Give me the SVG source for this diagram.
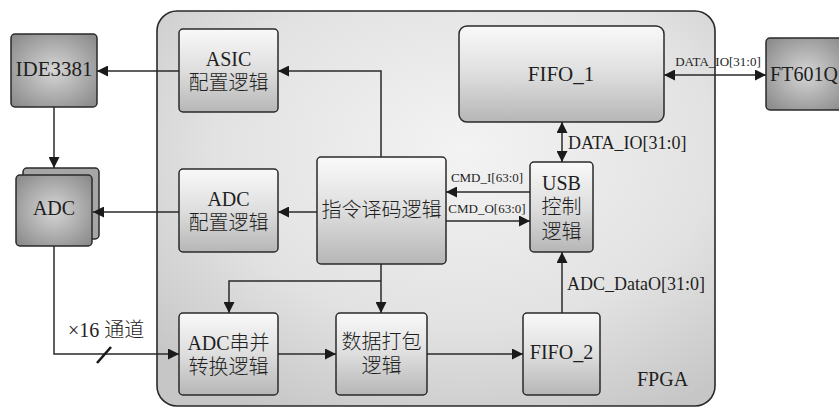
<svg xmlns="http://www.w3.org/2000/svg" width="839" height="407" viewBox="0 0 839 407">
  <defs>
    <radialGradient id="gFpga" cx="0.55" cy="0.35" r="0.75">
      <stop offset="0" stop-color="#f3f3f3"/>
      <stop offset="0.6" stop-color="#e2e2e2"/>
      <stop offset="1" stop-color="#c6c6c6"/>
    </radialGradient>
    <linearGradient id="gBlock" x1="0" y1="0" x2="0" y2="1">
      <stop offset="0" stop-color="#f9f9f9"/>
      <stop offset="0.5" stop-color="#dedede"/>
      <stop offset="1" stop-color="#b6b6b6"/>
    </linearGradient>
    <radialGradient id="gChip" cx="0.5" cy="0.5" r="0.65">
      <stop offset="0" stop-color="#d6d6d6"/>
      <stop offset="1" stop-color="#8c8c8c"/>
    </radialGradient>
    <marker id="ah" viewBox="0 0 10 10" refX="10" refY="5" markerWidth="11" markerHeight="11" markerUnits="userSpaceOnUse" orient="auto-start-reverse">
      <path d="M0,0 L10,5 L0,10 z" fill="#1a1a1a"/>
    </marker>
    <style>
      .blk { fill: url(#gBlock); stroke: #2a2a2a; stroke-width: 1.5; }
      .chip { fill: url(#gChip); stroke: #2a2a2a; stroke-width: 1.5; }
      text { fill: #1e1e1e; }
      .t { font-family: "Liberation Serif", serif; font-size: 20px; text-anchor: middle; }
      .c { font-family: "Noto Sans CJK SC", sans-serif; font-weight: 300; }
      .l { font-family: "Liberation Serif", serif; font-size: 20px; }
      .big { font-size: 21px; }
      .s13 { font-family: "Liberation Serif", serif; font-size: 13px; text-anchor: middle; }
      .s18 { font-family: "Liberation Serif", serif; font-size: 18px; }
      .wire { fill: none; stroke: #2a2a2a; stroke-width: 1.5; }
    </style>
  </defs>

  <!-- FPGA outline -->
  <g id="fpga">
    <rect x="157" y="11" width="558" height="395" rx="20" fill="url(#gFpga)" stroke="#2a2a2a" stroke-width="1.6"/>
    <text class="l" x="637" y="386">FPGA</text>
  </g>

  <!-- external devices -->
  <g id="ide3381">
    <rect class="chip" x="11" y="34" width="86" height="73" rx="4"/>
    <text class="t big" x="54" y="76">IDE3381</text>
  </g>
  <g id="adc">
    <rect x="23" y="168" width="76" height="71" rx="4" fill="#a6a6a6" stroke="#2a2a2a" stroke-width="1.5"/>
    <rect class="chip" x="16" y="175" width="76" height="71" rx="4"/>
    <text class="t" x="54" y="215">ADC</text>
  </g>
  <g id="ft601q">
    <rect class="chip" x="766" y="38" width="80" height="72" rx="4"/>
    <text class="t" x="804" y="81">FT601Q</text>
  </g>

  <!-- FPGA internal blocks -->
  <g id="asic_cfg">
    <rect class="blk" x="179" y="29" width="99" height="83" rx="4"/>
    <text class="t" x="228.5" y="66">ASIC</text>
    <text class="t c" x="228.5" y="90">配置逻辑</text>
  </g>
  <g id="adc_cfg">
    <rect class="blk" x="179" y="169" width="99" height="83" rx="4"/>
    <text class="t" x="228.5" y="206">ADC</text>
    <text class="t c" x="228.5" y="230">配置逻辑</text>
  </g>
  <g id="cmd_decode">
    <rect class="blk" x="317" y="157" width="129" height="107" rx="4"/>
    <text class="t c" x="381.5" y="217">指令译码逻辑</text>
  </g>
  <g id="usb_ctrl">
    <rect class="blk" x="530" y="162" width="63" height="90" rx="4"/>
    <text class="t" x="561.5" y="190">USB</text>
    <text class="t c" x="561.5" y="214">控制</text>
    <text class="t c" x="561.5" y="239">逻辑</text>
  </g>
  <g id="fifo1">
    <rect class="blk" x="459" y="26" width="205" height="96" rx="8"/>
    <text class="t big" x="561" y="81">FIFO_1</text>
  </g>
  <g id="adc_s2p">
    <rect class="blk" x="179" y="313" width="99" height="82" rx="4"/>
    <text class="t" x="228.5" y="350">ADC<tspan class="c">串并</tspan></text>
    <text class="t c" x="228.5" y="374">转换逻辑</text>
  </g>
  <g id="packer">
    <rect class="blk" x="336" y="313" width="91" height="82" rx="4"/>
    <text class="t c" x="381.5" y="349">数据打包</text>
    <text class="t c" x="381.5" y="373">逻辑</text>
  </g>
  <g id="fifo2">
    <rect class="blk" x="523" y="313" width="77" height="82" rx="4"/>
    <text class="t" x="561.5" y="359">FIFO_2</text>
  </g>

  <!-- connectors -->
  <g id="connectors">
    <path class="wire" d="M179,71 H97" marker-end="url(#ah)"/>
    <path class="wire" d="M54,107 V168" marker-end="url(#ah)"/>
    <path class="wire" d="M381,157 V71 H278" marker-end="url(#ah)"/>
    <path class="wire" d="M179,212 H93" marker-end="url(#ah)"/>
    <path class="wire" d="M317,212 H278" marker-end="url(#ah)"/>
    <path class="wire" d="M381,264 V313" marker-end="url(#ah)"/>
    <path class="wire" d="M381,281 H229 V313" marker-end="url(#ah)"/>
    <path class="wire" d="M54,246 V354 H179" marker-end="url(#ah)"/>
    <line x1="97" y1="363" x2="111" y2="347" stroke="#1a1a1a" stroke-width="2.6"/>
    <text class="l" x="68" y="337">×16 <tspan class="c">通道</tspan></text>
    <path class="wire" d="M278,354 H336" marker-end="url(#ah)"/>
    <path class="wire" d="M427,354 H523" marker-end="url(#ah)"/>
    <path class="wire" d="M562,313 V252" marker-end="url(#ah)"/>
    <text class="s18" x="567" y="290">ADC_DataO[31:0]</text>
    <path class="wire" d="M562,122 V162" marker-start="url(#ah)" marker-end="url(#ah)"/>
    <text class="s18" x="568" y="149">DATA_IO[31:0]</text>
    <path class="wire" d="M530,192 H446" marker-end="url(#ah)"/>
    <text class="s13" x="487" y="182">CMD_I[63:0]</text>
    <path class="wire" d="M446,221 H530" marker-end="url(#ah)"/>
    <text class="s13" x="487" y="213">CMD_O[63:0]</text>
    <path class="wire" d="M664,75 H766" marker-start="url(#ah)" marker-end="url(#ah)"/>
    <text class="s13" x="718" y="66">DATA_IO[31:0]</text>
  </g>
</svg>
